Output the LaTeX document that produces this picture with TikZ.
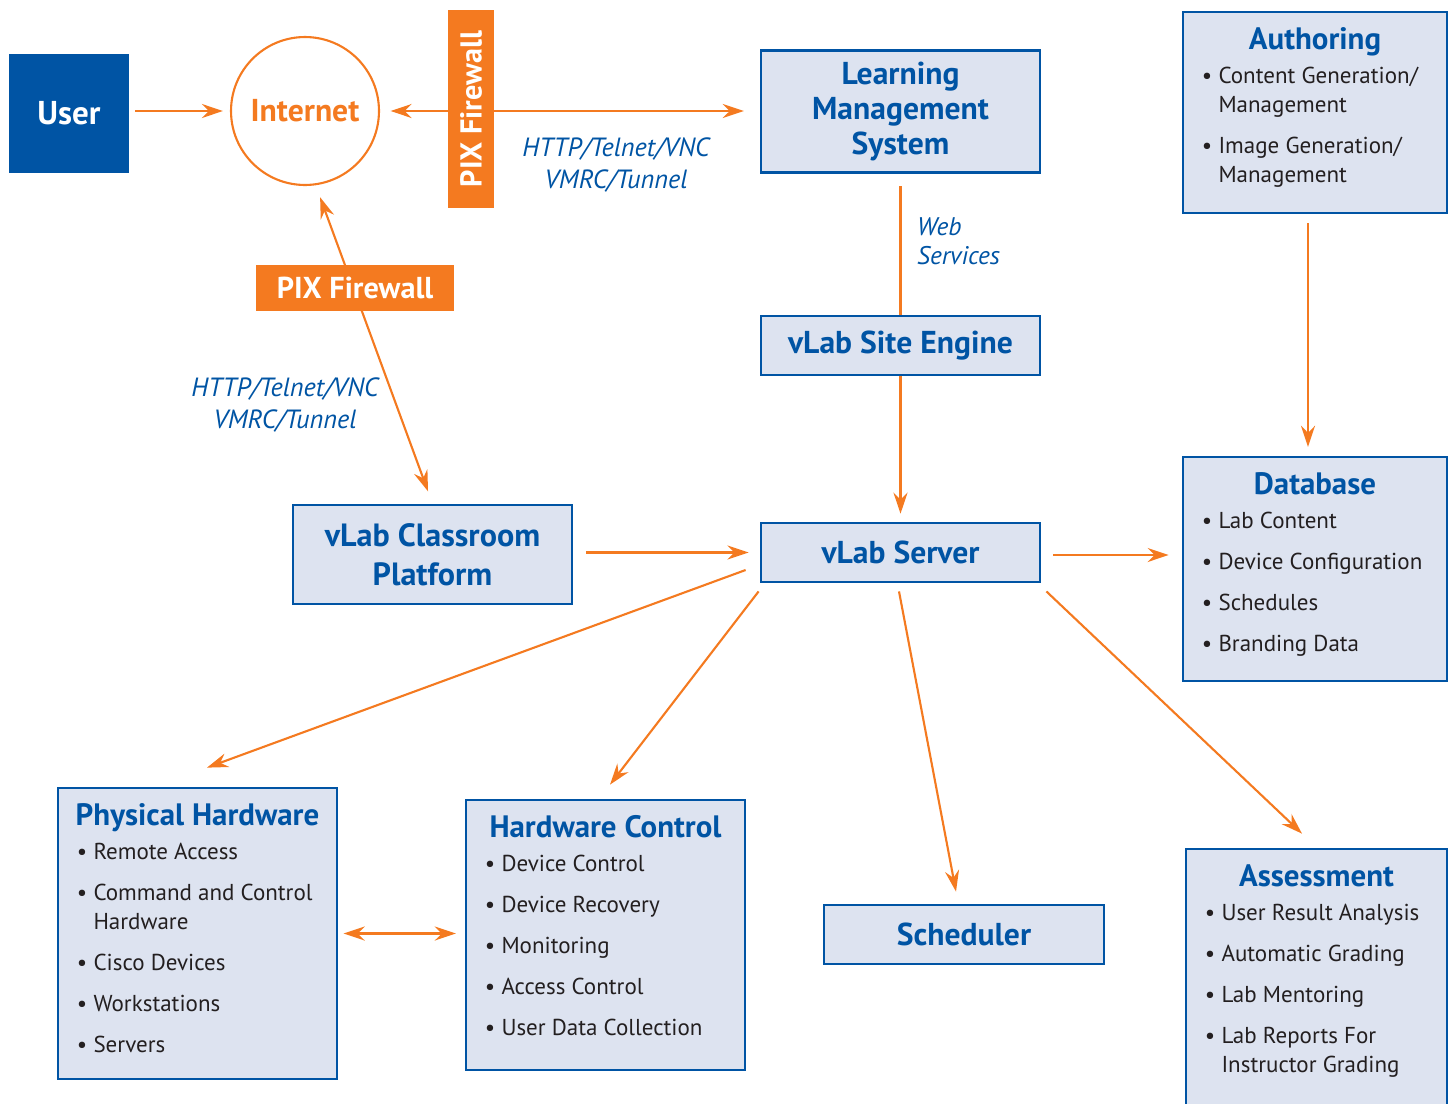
\documentclass[tikz,border=0pt]{standalone}
\usepackage{fontspec}
\setmainfont{PT Sans}
\usetikzlibrary{arrows.meta}
\definecolor{vblue}{HTML}{0054A4}
\definecolor{vfill}{HTML}{DDE3F0}
\definecolor{vorange}{HTML}{F47A20}
\definecolor{vtext}{HTML}{231F20}
\newcommand{\itm}{\textbullet\ }
\newcommand{\itmh}{\hphantom{\textbullet\ }}

\begin{document}
\begin{tikzpicture}[x=0.02cm, y=-0.02cm]
 \tikzset{>={Stealth[length=12pt,width=8pt,inset=4pt]},
  link/.style={vorange, line width=1.2pt},
  box/.style={draw=vblue, fill=vfill, line width=1.6pt, text=vblue, align=center,
    font=\bfseries\fontsize{18}{20}\selectfont},
  head/.style={anchor=base, text=vblue, font=\bfseries\fontsize{17.6}{20}\selectfont},
  items/.style={anchor=north west, inner sep=0pt, align=left, text=vtext,
    font=\fontsize{13.1}{16.5}\selectfont},
  proto/.style={text=vblue, font=\itshape\fontsize{15}{18.2}\selectfont},
  fwall/.style={fill=vorange, text=white, inner sep=0pt, font=\bfseries\fontsize{17.2}{19}\selectfont,
    minimum width=3.96cm, minimum height=0.92cm}}
 \useasboundingbox (0,0) rectangle (1450,1103);

 % top row
 \node[fill=vblue, text=white, font=\bfseries\fontsize{18.8}{20}\selectfont,
   minimum width=2.4cm, minimum height=2.38cm] (user) at (69,113.5) {User};
 \node[draw=vorange, line width=1.2pt, circle, minimum size=2.96cm, text=vorange,
   font=\bfseries\fontsize{18}{20}\selectfont] (inet) at (305,111) {Internet};
 \node[box, minimum width=5.58cm, minimum height=2.44cm] (lms) at (900.5,111.5) {Learning\\Management\\System};
 \node[box, minimum width=5.28cm, minimum height=4.02cm] (auth) at (1315,112.5) {};
 \node[head] (authT) at ([shift={(0,39)}]auth.north) {Authoring};
 \node[items] (authL) at ([shift={(20,53)}]auth.north west)
   {\rule{0pt}{11pt}\itm Content Generation/\\\itmh Management\\[6.8pt]\itm Image Generation/\\\itmh Management};

 % middle
 \node[box, minimum width=5.58cm, minimum height=1.18cm] (site) at (900.5,345.5) {vLab Site Engine};
 \node[box, minimum width=5.58cm, minimum height=1.18cm] (srv) at (900.5,552.5) {vLab Server};
 \node[box, minimum width=5.58cm, minimum height=1.98cm,
   font=\bfseries\fontsize{18.3}{22}\selectfont] (cls) at (432.5,554.5) {vLab Classroom\\Platform};
 \node[box, minimum width=5.28cm, minimum height=4.48cm] (db) at (1315,569) {};
 \node[head] (dbT) at ([shift={(0,39)}]db.north) {Database};
 \node[items] (dbL) at ([shift={(20,53)}]db.north west)
   {\rule{0pt}{11pt}\itm Lab Content\\[6.8pt]\itm Device Configuration\\[6.8pt]\itm Schedules\\[6.8pt]\itm Branding Data};

 % bottom row
 \node[box, minimum width=5.58cm, minimum height=5.82cm] (phys) at (197.5,933.5) {};
 \node[head] (physT) at ([shift={(0,39)}]phys.north) {Physical Hardware};
 \node[items] (physL) at ([shift={(20,53)}]phys.north west)
   {\rule{0pt}{11pt}\itm Remote Access\\[6.8pt]\itm Command and Control\\\itmh Hardware\\[6.8pt]\itm Cisco Devices\\[6.8pt]\itm Workstations\\[6.8pt]\itm Servers};
 \node[box, minimum width=5.58cm, minimum height=5.4cm] (hwc) at (605.5,935) {};
 \node[head] (hwcT) at ([shift={(0,39)}]hwc.north) {Hardware Control};
 \node[items] (hwcL) at ([shift={(20,53)}]hwc.north west)
   {\rule{0pt}{11pt}\itm Device Control\\[6.8pt]\itm Device Recovery\\[6.8pt]\itm Monitoring\\[6.8pt]\itm Access Control\\[6.8pt]\itm User Data Collection};
 \node[box, minimum width=5.6cm, minimum height=1.18cm] (sched) at (964,934.5) {Scheduler};
 \node[box, minimum width=5.22cm, minimum height=5.42cm] (asmt) at (1316.5,984.5) {};
 \node[head] (asmtT) at ([shift={(0,39)}]asmt.north) {Assessment};
 \node[items] (asmtL) at ([shift={(20,53)}]asmt.north west)
   {\rule{0pt}{11pt}\itm User Result Analysis\\[6.8pt]\itm Automatic Grading\\[6.8pt]\itm Lab Mentoring\\[6.8pt]\itm Lab Reports For\\\itmh Instructor Grading};

 % connectors
 \draw[link, ->, shorten <=3.5pt, shorten >=4pt] (user.east |- inet.west) -- (inet.west);
 \draw[link, <->, shorten <=6pt, shorten >=9pt] (inet.east) -- (inet.east -| lms.west);
 \node[fwall, rotate=90] (fwv) at (471,109) {PIX Firewall};
 \node[proto, align=center] (protoA) at (616,165) {HTTP/Telnet/VNC\\VMRC/Tunnel};
 \draw[link, shorten <=7pt] (lms.south) -- (site.north);
 \node[proto, align=left, anchor=west, font=\itshape\fontsize{14.5}{16.5}\selectfont] (ws) at (911,241.5) {Web\\Services};
 \draw[link, ->, shorten >=4.5pt] (site.south) -- (srv.north);
 \draw[link, <->, shorten <=6.8pt, shorten >=7.4pt] ([shift={(11,0)}]inet.south) -- (cls.north);
 \node[fwall] (fwh) at (355,288) {PIX Firewall};
 \node[proto, align=center] (protoB) at (285,405) {HTTP/Telnet/VNC\\VMRC/Tunnel};
 \draw[link, ->, shorten <=7.4pt, shorten >=6.3pt] (srv.west -| cls.east) -- (srv.west);
 \draw[link, ->, shorten <=6.8pt, shorten >=7.4pt] ([shift={(0,2.5)}]srv.east) -- ([shift={(0,2.5)}]srv.east -| db.west);
 \draw[link, ->, shorten <=5pt, shorten >=5pt] ([shift={(-7,0)}]auth.south) -- ([shift={(-7,0)}]db.north);
 \draw[link, ->] ([shift={(-14,17.5)}]srv.west) -- ([shift={(9.5,-19)}]phys.north);
 \draw[link, ->] ([shift={(-1,8)}]srv.south west) -- ([shift={(4.5,-14)}]hwc.north);
 \draw[link, ->] ([shift={(-1.5,8)}]srv.south) -- ([shift={(-8,-12)}]sched.north);
 \draw[link, ->] ([shift={(5,8)}]srv.south east) -- ([shift={(-14.5,-14)}]asmt.north);
 \draw[link, <->, shorten <=3pt, shorten >=5pt] (phys.east) -- (phys.east -| hwc.west);
\end{tikzpicture}
\end{document}
